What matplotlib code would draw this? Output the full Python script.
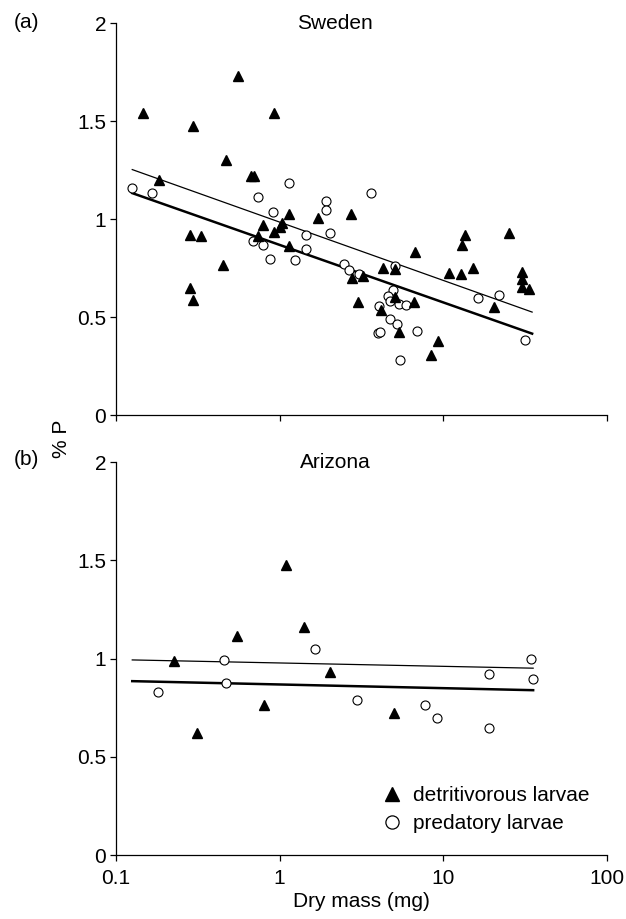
import numpy as np
import matplotlib
matplotlib.use('Agg')
import matplotlib.pyplot as plt
from matplotlib.lines import Line2D

plt.rcParams['font.family'] = ['Liberation Sans', 'DejaVu Sans']
plt.rcParams['font.size'] = 15

## Sweden data (dry mass in mg, % P)
sweden_det_mass = [0.146, 0.184, 0.283, 0.331, 0.285, 0.295, 0.294, 0.451, 0.469, 0.555,
                   0.672, 0.70, 0.738, 0.794, 0.923, 0.93, 1.0, 1.04, 1.146, 1.135,
                   1.72, 2.72, 2.77, 3.22, 3.02, 4.27, 5.09, 6.68, 4.17, 5.09,
                   6.59, 5.34, 9.29, 8.41, 10.8, 12.8, 15.2, 13.6, 13.0, 25.3,
                   20.5, 30.0, 30.0, 30.0, 33.4]
sweden_det_p = [1.542, 1.202, 0.922, 0.913, 0.651, 0.590, 1.478, 0.765, 1.303, 1.730,
                1.221, 1.221, 0.915, 0.969, 0.935, 1.542, 0.961, 0.981, 1.029, 0.866,
                1.009, 1.026, 0.700, 0.709, 0.577, 0.752, 0.748, 0.832, 0.536, 0.604,
                0.578, 0.425, 0.379, 0.306, 0.728, 0.719, 0.752, 0.918, 0.871, 0.932,
                0.553, 0.733, 0.697, 0.657, 0.644]
sweden_pred_mass = [0.126, 0.167, 0.692, 0.79, 0.738, 0.873, 0.905, 1.135, 1.25, 1.455,
                    1.455, 1.92, 1.91, 2.04, 2.47, 2.66, 3.07, 3.62, 4.03, 3.97,
                    4.11, 5.03, 4.91, 4.57, 4.73, 5.34, 5.92, 4.69, 5.22, 6.92,
                    5.47, 16.2, 21.7, 31.5]
sweden_pred_p = [1.162, 1.136, 0.889, 0.871, 1.114, 0.796, 1.039, 1.185, 0.793, 0.922,
                 0.850, 1.092, 1.046, 0.932, 0.774, 0.740, 0.723, 1.136, 0.560, 0.422,
                 0.425, 0.764, 0.638, 0.609, 0.582, 0.566, 0.565, 0.493, 0.464, 0.430,
                 0.284, 0.600, 0.612, 0.386]
sweden_fit_mass = [0.126, 34.8]
sweden_fit_upper = [1.254, 0.527]
sweden_fit_lower = [1.134, 0.417]

## Arizona data
arizona_det_mass = [0.228, 0.313, 0.547, 0.80, 1.10, 1.40, 2.02, 4.99]
arizona_det_p = [0.986, 0.623, 1.115, 0.765, 1.476, 1.162, 0.931, 0.724]
arizona_pred_mass = [0.182, 0.459, 0.472, 1.64, 2.97, 7.74, 9.16, 18.9, 19.1, 34.4, 35.3]
arizona_pred_p = [0.832, 0.995, 0.875, 1.049, 0.787, 0.766, 0.697, 0.646, 0.920, 1.0, 0.897]
arizona_fit_mass = [0.126, 35.3]
arizona_fit_upper = [0.993, 0.951]
arizona_fit_lower = [0.885, 0.839]

xticks = [0.1, 1, 10, 100]
xticklabels = ['0.1', '1', '10', '100']
yticks = [0, 0.5, 1, 1.5, 2]
yticklabels = ['0', '0.5', '1', '1.5', '2']

fig = plt.figure(figsize=(6.26, 9.19), dpi=100)
ax1 = fig.add_axes([0.185, 0.548, 0.785, 0.4266])
ax2 = fig.add_axes([0.185, 0.0696, 0.785, 0.4276])

panels = [
    (ax1, 'Sweden', sweden_det_mass, sweden_det_p, sweden_pred_mass, sweden_pred_p,
     sweden_fit_mass, sweden_fit_upper, sweden_fit_lower),
    (ax2, 'Arizona', arizona_det_mass, arizona_det_p, arizona_pred_mass, arizona_pred_p,
     arizona_fit_mass, arizona_fit_upper, arizona_fit_lower),
]

for ax, name, dm, dp, pm, pp, fm, fu, fl in panels:
    ## regression lines
    ax.plot(fm, fu, '-', color='black', lw=0.9)
    ax.plot(fm, fl, '-', color='black', lw=1.8)
    ## points
    ax.plot(pm, pp, 'o', ms=6.5, mfc='white', mec='black', mew=0.8, ls='none', clip_on=False)
    ax.plot(dm, dp, '^', ms=7, mfc='black', mec='black', ls='none', clip_on=False)

    ## Config the graph
    ax.set_xscale('log')
    ax.set_xlim(0.1, 100)
    ax.set_ylim(0, 2)
    ax.minorticks_off()
    ax.set_xticks(xticks)
    ax.set_yticks(yticks)
    ax.set_yticklabels(yticklabels)
    ax.spines['top'].set_visible(False)
    ax.spines['right'].set_visible(False)
    ax.spines['left'].set_linewidth(0.9)
    ax.spines['bottom'].set_linewidth(0.9)
    ax.tick_params(direction='out', length=4, width=0.9, labelsize=15, pad=3)
    ax.tick_params(axis='x', pad=6)
    ax.text(0.446, 1.0, name, transform=ax.transAxes, ha='center', va='center', fontsize=15)

ax1.set_xticklabels([])
ax2.set_xticklabels(xticklabels)
ax2.set_xlabel('Dry mass (mg)', fontsize=15, labelpad=3)

fig.text(0.099, 0.522, '% P', rotation=90, ha='center', va='center', fontsize=15)
fig.text(0.042, 0.976, '(a)', ha='center', va='center', fontsize=15)
fig.text(0.042, 0.500, '(b)', ha='center', va='center', fontsize=15)

## legend
handles = [Line2D([], [], marker='^', ls='none', ms=10, mfc='black', mec='black'),
           Line2D([], [], marker='o', ls='none', ms=9.5, mfc='white', mec='black', mew=0.9)]
ax2.legend(handles, ['detritivorous larvae', 'predatory larvae'], loc='upper left',
           bbox_to_anchor=(0.541, 0.175), frameon=False, handlelength=1.0,
           handletextpad=0.5, borderpad=0, borderaxespad=0, labelspacing=0.42)

plt.savefig('out.png', dpi=100)
